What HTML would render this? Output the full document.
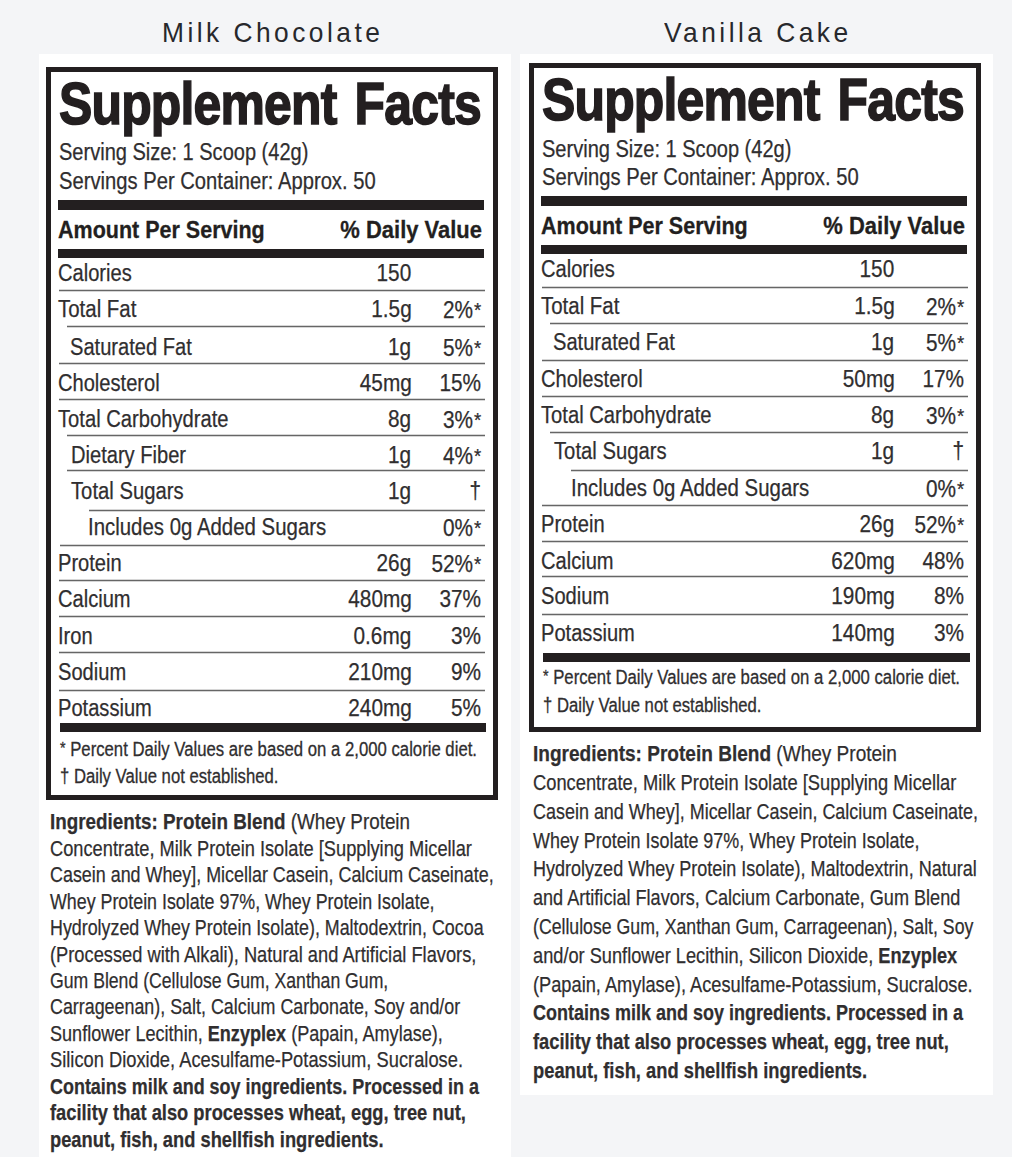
<!DOCTYPE html>
<html><head><meta charset="utf-8"><style>
html,body{margin:0;padding:0;}
body{width:1012px;height:1157px;background:#f4f5f7;position:relative;overflow:hidden;font-family:"Liberation Sans",sans-serif;}
.t{position:absolute;white-space:nowrap;}
.r{position:absolute;}
b{font-weight:700;}
</style></head><body>
<div class="t" style="left:162.10px;transform-origin:0 50%;top:18.90px;font-size:28px;line-height:28px;letter-spacing:3.7px;transform:scaleX(0.94000);color:#27282c;">Milk Chocolate</div>
<div class="t" style="left:664.00px;transform-origin:0 50%;top:18.90px;font-size:28px;line-height:28px;letter-spacing:3.7px;transform:scaleX(0.94000);color:#27282c;">Vanilla Cake</div>
<div class="r" style="left:39px;top:54px;width:472px;height:1103px;background:#ffffff;"></div>
<div class="r" style="left:520px;top:54px;width:473px;height:1041px;background:#ffffff;"></div>
<div class="r" style="left:46px;top:67px;width:442px;height:723px;border:5px solid #231f20;background:transparent"></div>
<div class="t" style="left:58.50px;transform-origin:0 50%;top:74.01px;font-size:60px;line-height:60px;font-weight:700;letter-spacing:-1px;transform:scaleX(0.83251);color:#231f20;word-spacing:6px;-webkit-text-stroke:1.6px #231f20;">Supplement Facts</div>
<div class="t" style="left:58.70px;transform-origin:0 50%;top:141.11px;font-size:23.5px;line-height:23.5px;transform:scaleX(0.85225);color:#302e2f;-webkit-text-stroke:0.25px #302e2f;">Serving Size: 1 Scoop (42g)</div>
<div class="t" style="left:58.70px;transform-origin:0 50%;top:169.61px;font-size:23.5px;line-height:23.5px;transform:scaleX(0.85965);color:#302e2f;-webkit-text-stroke:0.25px #302e2f;">Servings Per Container: Approx. 50</div>
<div class="r" style="left:58px;top:200px;width:426px;height:10px;background:#231f20;"></div>
<div class="t" style="left:58.30px;transform-origin:0 50%;top:218.06px;font-size:24.5px;line-height:24.5px;font-weight:700;transform:scaleX(0.87773);color:#231f20;-webkit-text-stroke:0.3px #231f20;">Amount Per Serving</div>
<div class="t" style="right:530.00px;transform-origin:100% 50%;top:218.06px;font-size:24.5px;line-height:24.5px;font-weight:700;transform:scaleX(0.89637);color:#231f20;-webkit-text-stroke:0.3px #231f20;">% Daily Value</div>
<div class="r" style="left:58px;top:249px;width:426px;height:9px;background:#231f20;"></div>
<div class="t" style="left:58.30px;transform-origin:0 50%;top:262.11px;font-size:23.5px;line-height:23.5px;transform:scaleX(0.85500);color:#302e2f;-webkit-text-stroke:0.25px #302e2f;">Calories</div>
<div class="t" style="right:600.50px;transform-origin:100% 50%;top:262.11px;font-size:23.5px;line-height:23.5px;transform:scaleX(0.88500);color:#302e2f;-webkit-text-stroke:0.25px #302e2f;">150</div>
<div class="t" style="left:58.30px;transform-origin:0 50%;top:298.11px;font-size:23.5px;line-height:23.5px;transform:scaleX(0.86998);color:#302e2f;-webkit-text-stroke:0.25px #302e2f;">Total Fat</div>
<div class="t" style="right:600.50px;transform-origin:100% 50%;top:298.11px;font-size:23.5px;line-height:23.5px;transform:scaleX(0.88500);color:#302e2f;-webkit-text-stroke:0.25px #302e2f;">1.5g</div>
<div class="t" style="right:531.20px;transform-origin:100% 50%;top:298.11px;font-size:23.5px;line-height:23.5px;transform:scaleX(0.88500);color:#302e2f;-webkit-text-stroke:0.25px #302e2f;">2%<span style="font-size:21px;vertical-align:1px;margin-left:1px">*</span></div>
<div class="t" style="left:70.30px;transform-origin:0 50%;top:335.61px;font-size:23.5px;line-height:23.5px;transform:scaleX(0.85500);color:#302e2f;-webkit-text-stroke:0.25px #302e2f;">Saturated Fat</div>
<div class="t" style="right:600.50px;transform-origin:100% 50%;top:335.61px;font-size:23.5px;line-height:23.5px;transform:scaleX(0.88500);color:#302e2f;-webkit-text-stroke:0.25px #302e2f;">1g</div>
<div class="t" style="right:531.20px;transform-origin:100% 50%;top:335.61px;font-size:23.5px;line-height:23.5px;transform:scaleX(0.88500);color:#302e2f;-webkit-text-stroke:0.25px #302e2f;">5%<span style="font-size:21px;vertical-align:1px;margin-left:1px">*</span></div>
<div class="t" style="left:58.30px;transform-origin:0 50%;top:371.91px;font-size:23.5px;line-height:23.5px;transform:scaleX(0.85500);color:#302e2f;-webkit-text-stroke:0.25px #302e2f;">Cholesterol</div>
<div class="t" style="right:600.50px;transform-origin:100% 50%;top:371.91px;font-size:23.5px;line-height:23.5px;transform:scaleX(0.88500);color:#302e2f;-webkit-text-stroke:0.25px #302e2f;">45mg</div>
<div class="t" style="right:531.20px;transform-origin:100% 50%;top:371.91px;font-size:23.5px;line-height:23.5px;transform:scaleX(0.88500);color:#302e2f;-webkit-text-stroke:0.25px #302e2f;">15%</div>
<div class="t" style="left:58.30px;transform-origin:0 50%;top:407.91px;font-size:23.5px;line-height:23.5px;transform:scaleX(0.85863);color:#302e2f;-webkit-text-stroke:0.25px #302e2f;">Total Carbohydrate</div>
<div class="t" style="right:600.50px;transform-origin:100% 50%;top:407.91px;font-size:23.5px;line-height:23.5px;transform:scaleX(0.88500);color:#302e2f;-webkit-text-stroke:0.25px #302e2f;">8g</div>
<div class="t" style="right:531.20px;transform-origin:100% 50%;top:407.91px;font-size:23.5px;line-height:23.5px;transform:scaleX(0.88500);color:#302e2f;-webkit-text-stroke:0.25px #302e2f;">3%<span style="font-size:21px;vertical-align:1px;margin-left:1px">*</span></div>
<div class="t" style="left:71.30px;transform-origin:0 50%;top:443.91px;font-size:23.5px;line-height:23.5px;transform:scaleX(0.85500);color:#302e2f;-webkit-text-stroke:0.25px #302e2f;">Dietary Fiber</div>
<div class="t" style="right:600.50px;transform-origin:100% 50%;top:443.91px;font-size:23.5px;line-height:23.5px;transform:scaleX(0.88500);color:#302e2f;-webkit-text-stroke:0.25px #302e2f;">1g</div>
<div class="t" style="right:531.20px;transform-origin:100% 50%;top:443.91px;font-size:23.5px;line-height:23.5px;transform:scaleX(0.88500);color:#302e2f;-webkit-text-stroke:0.25px #302e2f;">4%<span style="font-size:21px;vertical-align:1px;margin-left:1px">*</span></div>
<div class="t" style="left:70.80px;transform-origin:0 50%;top:480.11px;font-size:23.5px;line-height:23.5px;transform:scaleX(0.86136);color:#302e2f;-webkit-text-stroke:0.25px #302e2f;">Total Sugars</div>
<div class="t" style="right:600.50px;transform-origin:100% 50%;top:480.11px;font-size:23.5px;line-height:23.5px;transform:scaleX(0.88500);color:#302e2f;-webkit-text-stroke:0.25px #302e2f;">1g</div>
<div class="t" style="right:531.20px;transform-origin:100% 50%;top:480.11px;font-size:23.5px;line-height:23.5px;transform:scaleX(0.88500);color:#302e2f;-webkit-text-stroke:0.25px #302e2f;">&#8224;</div>
<div class="t" style="left:88.20px;transform-origin:0 50%;top:515.81px;font-size:23.5px;line-height:23.5px;transform:scaleX(0.86828);color:#302e2f;-webkit-text-stroke:0.25px #302e2f;">Includes 0g Added Sugars</div>
<div class="t" style="right:531.20px;transform-origin:100% 50%;top:515.81px;font-size:23.5px;line-height:23.5px;transform:scaleX(0.88500);color:#302e2f;-webkit-text-stroke:0.25px #302e2f;">0%<span style="font-size:21px;vertical-align:1px;margin-left:1px">*</span></div>
<div class="t" style="left:58.30px;transform-origin:0 50%;top:551.51px;font-size:23.5px;line-height:23.5px;transform:scaleX(0.85500);color:#302e2f;-webkit-text-stroke:0.25px #302e2f;">Protein</div>
<div class="t" style="right:600.50px;transform-origin:100% 50%;top:551.51px;font-size:23.5px;line-height:23.5px;transform:scaleX(0.88500);color:#302e2f;-webkit-text-stroke:0.25px #302e2f;">26g</div>
<div class="t" style="right:531.20px;transform-origin:100% 50%;top:551.51px;font-size:23.5px;line-height:23.5px;transform:scaleX(0.88500);color:#302e2f;-webkit-text-stroke:0.25px #302e2f;">52%<span style="font-size:21px;vertical-align:1px;margin-left:1px">*</span></div>
<div class="t" style="left:58.30px;transform-origin:0 50%;top:587.91px;font-size:23.5px;line-height:23.5px;transform:scaleX(0.85500);color:#302e2f;-webkit-text-stroke:0.25px #302e2f;">Calcium</div>
<div class="t" style="right:600.50px;transform-origin:100% 50%;top:587.91px;font-size:23.5px;line-height:23.5px;transform:scaleX(0.88500);color:#302e2f;-webkit-text-stroke:0.25px #302e2f;">480mg</div>
<div class="t" style="right:531.20px;transform-origin:100% 50%;top:587.91px;font-size:23.5px;line-height:23.5px;transform:scaleX(0.88500);color:#302e2f;-webkit-text-stroke:0.25px #302e2f;">37%</div>
<div class="t" style="left:58.30px;transform-origin:0 50%;top:625.11px;font-size:23.5px;line-height:23.5px;transform:scaleX(0.85500);color:#302e2f;-webkit-text-stroke:0.25px #302e2f;">Iron</div>
<div class="t" style="right:600.50px;transform-origin:100% 50%;top:625.11px;font-size:23.5px;line-height:23.5px;transform:scaleX(0.88500);color:#302e2f;-webkit-text-stroke:0.25px #302e2f;">0.6mg</div>
<div class="t" style="right:531.20px;transform-origin:100% 50%;top:625.11px;font-size:23.5px;line-height:23.5px;transform:scaleX(0.88500);color:#302e2f;-webkit-text-stroke:0.25px #302e2f;">3%</div>
<div class="t" style="left:58.30px;transform-origin:0 50%;top:661.11px;font-size:23.5px;line-height:23.5px;transform:scaleX(0.85500);color:#302e2f;-webkit-text-stroke:0.25px #302e2f;">Sodium</div>
<div class="t" style="right:600.50px;transform-origin:100% 50%;top:661.11px;font-size:23.5px;line-height:23.5px;transform:scaleX(0.88500);color:#302e2f;-webkit-text-stroke:0.25px #302e2f;">210mg</div>
<div class="t" style="right:531.20px;transform-origin:100% 50%;top:661.11px;font-size:23.5px;line-height:23.5px;transform:scaleX(0.88500);color:#302e2f;-webkit-text-stroke:0.25px #302e2f;">9%</div>
<div class="t" style="left:58.30px;transform-origin:0 50%;top:697.11px;font-size:23.5px;line-height:23.5px;transform:scaleX(0.85500);color:#302e2f;-webkit-text-stroke:0.25px #302e2f;">Potassium</div>
<div class="t" style="right:600.50px;transform-origin:100% 50%;top:697.11px;font-size:23.5px;line-height:23.5px;transform:scaleX(0.88500);color:#302e2f;-webkit-text-stroke:0.25px #302e2f;">240mg</div>
<div class="t" style="right:531.20px;transform-origin:100% 50%;top:697.11px;font-size:23.5px;line-height:23.5px;transform:scaleX(0.88500);color:#302e2f;-webkit-text-stroke:0.25px #302e2f;">5%</div>
<div class="r" style="left:58.8px;top:289px;width:426.2px;height:1px;background:#d6d6d6;"></div>
<div class="r" style="left:58.8px;top:290px;width:426.2px;height:1px;background:#666666;"></div>
<div class="r" style="left:58.8px;top:291px;width:426.2px;height:1px;background:#d6d6d6;"></div>
<div class="r" style="left:67px;top:325px;width:418px;height:1px;background:#d6d6d6;"></div>
<div class="r" style="left:67px;top:326px;width:418px;height:1px;background:#666666;"></div>
<div class="r" style="left:67px;top:327px;width:418px;height:1px;background:#d6d6d6;"></div>
<div class="r" style="left:58.8px;top:362px;width:426.2px;height:1px;background:#d6d6d6;"></div>
<div class="r" style="left:58.8px;top:363px;width:426.2px;height:1px;background:#666666;"></div>
<div class="r" style="left:58.8px;top:364px;width:426.2px;height:1px;background:#d6d6d6;"></div>
<div class="r" style="left:58.8px;top:398px;width:426.2px;height:1px;background:#d6d6d6;"></div>
<div class="r" style="left:58.8px;top:399px;width:426.2px;height:1px;background:#666666;"></div>
<div class="r" style="left:58.8px;top:400px;width:426.2px;height:1px;background:#d6d6d6;"></div>
<div class="r" style="left:67px;top:434px;width:418px;height:1px;background:#d6d6d6;"></div>
<div class="r" style="left:67px;top:435px;width:418px;height:1px;background:#666666;"></div>
<div class="r" style="left:67px;top:436px;width:418px;height:1px;background:#d6d6d6;"></div>
<div class="r" style="left:67px;top:469px;width:418px;height:1px;background:#d6d6d6;"></div>
<div class="r" style="left:67px;top:470px;width:418px;height:1px;background:#666666;"></div>
<div class="r" style="left:67px;top:471px;width:418px;height:1px;background:#d6d6d6;"></div>
<div class="r" style="left:89.3px;top:509px;width:395.7px;height:1px;background:#d6d6d6;"></div>
<div class="r" style="left:89.3px;top:510px;width:395.7px;height:1px;background:#666666;"></div>
<div class="r" style="left:89.3px;top:511px;width:395.7px;height:1px;background:#d6d6d6;"></div>
<div class="r" style="left:60px;top:544px;width:425px;height:1px;background:#d6d6d6;"></div>
<div class="r" style="left:60px;top:545px;width:425px;height:1px;background:#666666;"></div>
<div class="r" style="left:60px;top:546px;width:425px;height:1px;background:#d6d6d6;"></div>
<div class="r" style="left:58.8px;top:579px;width:426.2px;height:1px;background:#d6d6d6;"></div>
<div class="r" style="left:58.8px;top:580px;width:426.2px;height:1px;background:#666666;"></div>
<div class="r" style="left:58.8px;top:581px;width:426.2px;height:1px;background:#d6d6d6;"></div>
<div class="r" style="left:58.8px;top:615px;width:426.2px;height:1px;background:#d6d6d6;"></div>
<div class="r" style="left:58.8px;top:616px;width:426.2px;height:1px;background:#666666;"></div>
<div class="r" style="left:58.8px;top:617px;width:426.2px;height:1px;background:#d6d6d6;"></div>
<div class="r" style="left:58.8px;top:651px;width:426.2px;height:1px;background:#d6d6d6;"></div>
<div class="r" style="left:58.8px;top:652px;width:426.2px;height:1px;background:#666666;"></div>
<div class="r" style="left:58.8px;top:653px;width:426.2px;height:1px;background:#d6d6d6;"></div>
<div class="r" style="left:58.8px;top:689px;width:426.2px;height:1px;background:#d6d6d6;"></div>
<div class="r" style="left:58.8px;top:690px;width:426.2px;height:1px;background:#666666;"></div>
<div class="r" style="left:58.8px;top:691px;width:426.2px;height:1px;background:#d6d6d6;"></div>
<div class="r" style="left:60px;top:723px;width:426px;height:9px;background:#231f20;"></div>
<div class="t" style="left:59.90px;transform-origin:0 50%;top:739.37px;font-size:20px;line-height:20px;transform:scaleX(0.83600);color:#302e2f;-webkit-text-stroke:0.3px #302e2f;"><span style="font-size:17px;vertical-align:2px">*</span> Percent Daily Values are based on a 2,000 calorie diet.</div>
<div class="t" style="left:59.90px;transform-origin:0 50%;top:766.47px;font-size:20px;line-height:20px;transform:scaleX(0.83354);color:#302e2f;-webkit-text-stroke:0.3px #302e2f;">&#8224; Daily Value not established.</div>
<div class="t" style="left:50.40px;transform-origin:0 50%;top:811.45px;font-size:22.5px;line-height:22.5px;transform:scaleX(0.83709);color:#302e2f;-webkit-text-stroke:0.25px #302e2f;"><b>Ingredients: Protein Blend</b> (Whey Protein</div>
<div class="t" style="left:50.40px;transform-origin:0 50%;top:837.88px;font-size:22.5px;line-height:22.5px;transform:scaleX(0.81097);color:#302e2f;-webkit-text-stroke:0.25px #302e2f;">Concentrate, Milk Protein Isolate [Supplying Micellar</div>
<div class="t" style="left:50.40px;transform-origin:0 50%;top:864.31px;font-size:22.5px;line-height:22.5px;transform:scaleX(0.79546);color:#302e2f;-webkit-text-stroke:0.25px #302e2f;">Casein and Whey], Micellar Casein, Calcium Caseinate,</div>
<div class="t" style="left:50.40px;transform-origin:0 50%;top:890.74px;font-size:22.5px;line-height:22.5px;transform:scaleX(0.79256);color:#302e2f;-webkit-text-stroke:0.25px #302e2f;">Whey Protein Isolate 97%, Whey Protein Isolate,</div>
<div class="t" style="left:50.40px;transform-origin:0 50%;top:917.17px;font-size:22.5px;line-height:22.5px;transform:scaleX(0.79339);color:#302e2f;-webkit-text-stroke:0.25px #302e2f;">Hydrolyzed Whey Protein Isolate), Maltodextrin, Cocoa</div>
<div class="t" style="left:50.40px;transform-origin:0 50%;top:943.60px;font-size:22.5px;line-height:22.5px;transform:scaleX(0.81191);color:#302e2f;-webkit-text-stroke:0.25px #302e2f;">(Processed with Alkali), Natural and Artificial Flavors,</div>
<div class="t" style="left:50.40px;transform-origin:0 50%;top:970.03px;font-size:22.5px;line-height:22.5px;transform:scaleX(0.78398);color:#302e2f;-webkit-text-stroke:0.25px #302e2f;">Gum Blend (Cellulose Gum, Xanthan Gum,</div>
<div class="t" style="left:50.40px;transform-origin:0 50%;top:996.46px;font-size:22.5px;line-height:22.5px;transform:scaleX(0.79409);color:#302e2f;-webkit-text-stroke:0.25px #302e2f;">Carrageenan), Salt, Calcium Carbonate, Soy and/or</div>
<div class="t" style="left:50.40px;transform-origin:0 50%;top:1022.89px;font-size:22.5px;line-height:22.5px;transform:scaleX(0.80334);color:#302e2f;-webkit-text-stroke:0.25px #302e2f;">Sunflower Lecithin, <b>Enzyplex</b> (Papain, Amylase),</div>
<div class="t" style="left:50.40px;transform-origin:0 50%;top:1049.32px;font-size:22.5px;line-height:22.5px;transform:scaleX(0.81342);color:#302e2f;-webkit-text-stroke:0.25px #302e2f;">Silicon Dioxide, Acesulfame-Potassium, Sucralose.</div>
<div class="t" style="left:50.40px;transform-origin:0 50%;top:1075.75px;font-size:22.5px;line-height:22.5px;transform:scaleX(0.79784);color:#302e2f;-webkit-text-stroke:0.25px #302e2f;"><b>Contains milk and soy ingredients. Processed in a</b></div>
<div class="t" style="left:50.40px;transform-origin:0 50%;top:1102.18px;font-size:22.5px;line-height:22.5px;transform:scaleX(0.81318);color:#302e2f;-webkit-text-stroke:0.25px #302e2f;"><b>facility that also processes wheat, egg, tree nut,</b></div>
<div class="t" style="left:50.40px;transform-origin:0 50%;top:1128.61px;font-size:22.5px;line-height:22.5px;transform:scaleX(0.81343);color:#302e2f;-webkit-text-stroke:0.25px #302e2f;"><b>peanut, fish, and shellfish ingredients.</b></div>
<div class="r" style="left:529px;top:63px;width:442px;height:659px;border:5px solid #231f20;background:transparent"></div>
<div class="t" style="left:541.50px;transform-origin:0 50%;top:70.41px;font-size:60px;line-height:60px;font-weight:700;letter-spacing:-1px;transform:scaleX(0.83251);color:#231f20;word-spacing:6px;-webkit-text-stroke:1.6px #231f20;">Supplement Facts</div>
<div class="t" style="left:541.70px;transform-origin:0 50%;top:137.51px;font-size:23.5px;line-height:23.5px;transform:scaleX(0.85225);color:#302e2f;-webkit-text-stroke:0.25px #302e2f;">Serving Size: 1 Scoop (42g)</div>
<div class="t" style="left:541.70px;transform-origin:0 50%;top:166.01px;font-size:23.5px;line-height:23.5px;transform:scaleX(0.85965);color:#302e2f;-webkit-text-stroke:0.25px #302e2f;">Servings Per Container: Approx. 50</div>
<div class="r" style="left:541px;top:196.4px;width:426px;height:10px;background:#231f20;"></div>
<div class="t" style="left:541.30px;transform-origin:0 50%;top:214.46px;font-size:24.5px;line-height:24.5px;font-weight:700;transform:scaleX(0.87773);color:#231f20;-webkit-text-stroke:0.3px #231f20;">Amount Per Serving</div>
<div class="t" style="right:47.00px;transform-origin:100% 50%;top:214.46px;font-size:24.5px;line-height:24.5px;font-weight:700;transform:scaleX(0.89637);color:#231f20;-webkit-text-stroke:0.3px #231f20;">% Daily Value</div>
<div class="r" style="left:541px;top:245.4px;width:426px;height:9px;background:#231f20;"></div>
<div class="t" style="left:541.30px;transform-origin:0 50%;top:258.11px;font-size:23.5px;line-height:23.5px;transform:scaleX(0.85500);color:#302e2f;-webkit-text-stroke:0.25px #302e2f;">Calories</div>
<div class="t" style="right:117.50px;transform-origin:100% 50%;top:258.11px;font-size:23.5px;line-height:23.5px;transform:scaleX(0.88500);color:#302e2f;-webkit-text-stroke:0.25px #302e2f;">150</div>
<div class="t" style="left:541.30px;transform-origin:0 50%;top:294.51px;font-size:23.5px;line-height:23.5px;transform:scaleX(0.86998);color:#302e2f;-webkit-text-stroke:0.25px #302e2f;">Total Fat</div>
<div class="t" style="right:117.50px;transform-origin:100% 50%;top:294.51px;font-size:23.5px;line-height:23.5px;transform:scaleX(0.88500);color:#302e2f;-webkit-text-stroke:0.25px #302e2f;">1.5g</div>
<div class="t" style="right:48.20px;transform-origin:100% 50%;top:294.51px;font-size:23.5px;line-height:23.5px;transform:scaleX(0.88500);color:#302e2f;-webkit-text-stroke:0.25px #302e2f;">2%<span style="font-size:21px;vertical-align:1px;margin-left:1px">*</span></div>
<div class="t" style="left:553.30px;transform-origin:0 50%;top:331.11px;font-size:23.5px;line-height:23.5px;transform:scaleX(0.85500);color:#302e2f;-webkit-text-stroke:0.25px #302e2f;">Saturated Fat</div>
<div class="t" style="right:117.50px;transform-origin:100% 50%;top:331.11px;font-size:23.5px;line-height:23.5px;transform:scaleX(0.88500);color:#302e2f;-webkit-text-stroke:0.25px #302e2f;">1g</div>
<div class="t" style="right:48.20px;transform-origin:100% 50%;top:331.11px;font-size:23.5px;line-height:23.5px;transform:scaleX(0.88500);color:#302e2f;-webkit-text-stroke:0.25px #302e2f;">5%<span style="font-size:21px;vertical-align:1px;margin-left:1px">*</span></div>
<div class="t" style="left:541.30px;transform-origin:0 50%;top:367.91px;font-size:23.5px;line-height:23.5px;transform:scaleX(0.85500);color:#302e2f;-webkit-text-stroke:0.25px #302e2f;">Cholesterol</div>
<div class="t" style="right:117.50px;transform-origin:100% 50%;top:367.91px;font-size:23.5px;line-height:23.5px;transform:scaleX(0.88500);color:#302e2f;-webkit-text-stroke:0.25px #302e2f;">50mg</div>
<div class="t" style="right:48.20px;transform-origin:100% 50%;top:367.91px;font-size:23.5px;line-height:23.5px;transform:scaleX(0.88500);color:#302e2f;-webkit-text-stroke:0.25px #302e2f;">17%</div>
<div class="t" style="left:541.30px;transform-origin:0 50%;top:403.81px;font-size:23.5px;line-height:23.5px;transform:scaleX(0.85863);color:#302e2f;-webkit-text-stroke:0.25px #302e2f;">Total Carbohydrate</div>
<div class="t" style="right:117.50px;transform-origin:100% 50%;top:403.81px;font-size:23.5px;line-height:23.5px;transform:scaleX(0.88500);color:#302e2f;-webkit-text-stroke:0.25px #302e2f;">8g</div>
<div class="t" style="right:48.20px;transform-origin:100% 50%;top:403.81px;font-size:23.5px;line-height:23.5px;transform:scaleX(0.88500);color:#302e2f;-webkit-text-stroke:0.25px #302e2f;">3%<span style="font-size:21px;vertical-align:1px;margin-left:1px">*</span></div>
<div class="t" style="left:553.80px;transform-origin:0 50%;top:440.11px;font-size:23.5px;line-height:23.5px;transform:scaleX(0.86136);color:#302e2f;-webkit-text-stroke:0.25px #302e2f;">Total Sugars</div>
<div class="t" style="right:117.50px;transform-origin:100% 50%;top:440.11px;font-size:23.5px;line-height:23.5px;transform:scaleX(0.88500);color:#302e2f;-webkit-text-stroke:0.25px #302e2f;">1g</div>
<div class="t" style="right:48.20px;transform-origin:100% 50%;top:440.11px;font-size:23.5px;line-height:23.5px;transform:scaleX(0.88500);color:#302e2f;-webkit-text-stroke:0.25px #302e2f;">&#8224;</div>
<div class="t" style="left:571.20px;transform-origin:0 50%;top:476.71px;font-size:23.5px;line-height:23.5px;transform:scaleX(0.86828);color:#302e2f;-webkit-text-stroke:0.25px #302e2f;">Includes 0g Added Sugars</div>
<div class="t" style="right:48.20px;transform-origin:100% 50%;top:476.71px;font-size:23.5px;line-height:23.5px;transform:scaleX(0.88500);color:#302e2f;-webkit-text-stroke:0.25px #302e2f;">0%<span style="font-size:21px;vertical-align:1px;margin-left:1px">*</span></div>
<div class="t" style="left:541.30px;transform-origin:0 50%;top:513.31px;font-size:23.5px;line-height:23.5px;transform:scaleX(0.85500);color:#302e2f;-webkit-text-stroke:0.25px #302e2f;">Protein</div>
<div class="t" style="right:117.50px;transform-origin:100% 50%;top:513.31px;font-size:23.5px;line-height:23.5px;transform:scaleX(0.88500);color:#302e2f;-webkit-text-stroke:0.25px #302e2f;">26g</div>
<div class="t" style="right:48.20px;transform-origin:100% 50%;top:513.31px;font-size:23.5px;line-height:23.5px;transform:scaleX(0.88500);color:#302e2f;-webkit-text-stroke:0.25px #302e2f;">52%<span style="font-size:21px;vertical-align:1px;margin-left:1px">*</span></div>
<div class="t" style="left:541.30px;transform-origin:0 50%;top:549.61px;font-size:23.5px;line-height:23.5px;transform:scaleX(0.85500);color:#302e2f;-webkit-text-stroke:0.25px #302e2f;">Calcium</div>
<div class="t" style="right:117.50px;transform-origin:100% 50%;top:549.61px;font-size:23.5px;line-height:23.5px;transform:scaleX(0.88500);color:#302e2f;-webkit-text-stroke:0.25px #302e2f;">620mg</div>
<div class="t" style="right:48.20px;transform-origin:100% 50%;top:549.61px;font-size:23.5px;line-height:23.5px;transform:scaleX(0.88500);color:#302e2f;-webkit-text-stroke:0.25px #302e2f;">48%</div>
<div class="t" style="left:541.30px;transform-origin:0 50%;top:584.91px;font-size:23.5px;line-height:23.5px;transform:scaleX(0.85500);color:#302e2f;-webkit-text-stroke:0.25px #302e2f;">Sodium</div>
<div class="t" style="right:117.50px;transform-origin:100% 50%;top:584.91px;font-size:23.5px;line-height:23.5px;transform:scaleX(0.88500);color:#302e2f;-webkit-text-stroke:0.25px #302e2f;">190mg</div>
<div class="t" style="right:48.20px;transform-origin:100% 50%;top:584.91px;font-size:23.5px;line-height:23.5px;transform:scaleX(0.88500);color:#302e2f;-webkit-text-stroke:0.25px #302e2f;">8%</div>
<div class="t" style="left:541.30px;transform-origin:0 50%;top:622.01px;font-size:23.5px;line-height:23.5px;transform:scaleX(0.85500);color:#302e2f;-webkit-text-stroke:0.25px #302e2f;">Potassium</div>
<div class="t" style="right:117.50px;transform-origin:100% 50%;top:622.01px;font-size:23.5px;line-height:23.5px;transform:scaleX(0.88500);color:#302e2f;-webkit-text-stroke:0.25px #302e2f;">140mg</div>
<div class="t" style="right:48.20px;transform-origin:100% 50%;top:622.01px;font-size:23.5px;line-height:23.5px;transform:scaleX(0.88500);color:#302e2f;-webkit-text-stroke:0.25px #302e2f;">3%</div>
<div class="r" style="left:541.8px;top:286px;width:426.20000000000005px;height:1px;background:#d6d6d6;"></div>
<div class="r" style="left:541.8px;top:287px;width:426.20000000000005px;height:1px;background:#666666;"></div>
<div class="r" style="left:541.8px;top:288px;width:426.20000000000005px;height:1px;background:#d6d6d6;"></div>
<div class="r" style="left:550px;top:322px;width:418px;height:1px;background:#d6d6d6;"></div>
<div class="r" style="left:550px;top:323px;width:418px;height:1px;background:#666666;"></div>
<div class="r" style="left:550px;top:324px;width:418px;height:1px;background:#d6d6d6;"></div>
<div class="r" style="left:541.8px;top:359px;width:426.20000000000005px;height:1px;background:#d6d6d6;"></div>
<div class="r" style="left:541.8px;top:360px;width:426.20000000000005px;height:1px;background:#666666;"></div>
<div class="r" style="left:541.8px;top:361px;width:426.20000000000005px;height:1px;background:#d6d6d6;"></div>
<div class="r" style="left:541.8px;top:395px;width:426.20000000000005px;height:1px;background:#d6d6d6;"></div>
<div class="r" style="left:541.8px;top:396px;width:426.20000000000005px;height:1px;background:#666666;"></div>
<div class="r" style="left:541.8px;top:397px;width:426.20000000000005px;height:1px;background:#d6d6d6;"></div>
<div class="r" style="left:550px;top:431px;width:418px;height:1px;background:#d6d6d6;"></div>
<div class="r" style="left:550px;top:432px;width:418px;height:1px;background:#666666;"></div>
<div class="r" style="left:550px;top:433px;width:418px;height:1px;background:#d6d6d6;"></div>
<div class="r" style="left:570.5px;top:469px;width:397.5px;height:1px;background:#d6d6d6;"></div>
<div class="r" style="left:570.5px;top:470px;width:397.5px;height:1px;background:#666666;"></div>
<div class="r" style="left:570.5px;top:471px;width:397.5px;height:1px;background:#d6d6d6;"></div>
<div class="r" style="left:541.8px;top:504px;width:426.20000000000005px;height:1px;background:#d6d6d6;"></div>
<div class="r" style="left:541.8px;top:505px;width:426.20000000000005px;height:1px;background:#666666;"></div>
<div class="r" style="left:541.8px;top:506px;width:426.20000000000005px;height:1px;background:#d6d6d6;"></div>
<div class="r" style="left:541.8px;top:540px;width:426.20000000000005px;height:1px;background:#d6d6d6;"></div>
<div class="r" style="left:541.8px;top:541px;width:426.20000000000005px;height:1px;background:#666666;"></div>
<div class="r" style="left:541.8px;top:542px;width:426.20000000000005px;height:1px;background:#d6d6d6;"></div>
<div class="r" style="left:541.8px;top:575px;width:426.20000000000005px;height:1px;background:#d6d6d6;"></div>
<div class="r" style="left:541.8px;top:576px;width:426.20000000000005px;height:1px;background:#666666;"></div>
<div class="r" style="left:541.8px;top:577px;width:426.20000000000005px;height:1px;background:#d6d6d6;"></div>
<div class="r" style="left:541.8px;top:613px;width:426.20000000000005px;height:1px;background:#d6d6d6;"></div>
<div class="r" style="left:541.8px;top:614px;width:426.20000000000005px;height:1px;background:#666666;"></div>
<div class="r" style="left:541.8px;top:615px;width:426.20000000000005px;height:1px;background:#d6d6d6;"></div>
<div class="r" style="left:543px;top:652.5px;width:427px;height:9px;background:#231f20;"></div>
<div class="t" style="left:542.90px;transform-origin:0 50%;top:667.07px;font-size:20px;line-height:20px;transform:scaleX(0.83600);color:#302e2f;-webkit-text-stroke:0.3px #302e2f;"><span style="font-size:17px;vertical-align:2px">*</span> Percent Daily Values are based on a 2,000 calorie diet.</div>
<div class="t" style="left:542.90px;transform-origin:0 50%;top:694.57px;font-size:20px;line-height:20px;transform:scaleX(0.83354);color:#302e2f;-webkit-text-stroke:0.3px #302e2f;">&#8224; Daily Value not established.</div>
<div class="t" style="left:533.20px;transform-origin:0 50%;top:743.25px;font-size:22.5px;line-height:22.5px;transform:scaleX(0.84622);color:#302e2f;-webkit-text-stroke:0.25px #302e2f;"><b>Ingredients: Protein Blend</b> (Whey Protein</div>
<div class="t" style="left:533.20px;transform-origin:0 50%;top:772.05px;font-size:22.5px;line-height:22.5px;transform:scaleX(0.81386);color:#302e2f;-webkit-text-stroke:0.25px #302e2f;">Concentrate, Milk Protein Isolate [Supplying Micellar</div>
<div class="t" style="left:533.20px;transform-origin:0 50%;top:800.85px;font-size:22.5px;line-height:22.5px;transform:scaleX(0.79799);color:#302e2f;-webkit-text-stroke:0.25px #302e2f;">Casein and Whey], Micellar Casein, Calcium Caseinate,</div>
<div class="t" style="left:533.20px;transform-origin:0 50%;top:829.65px;font-size:22.5px;line-height:22.5px;transform:scaleX(0.79649);color:#302e2f;-webkit-text-stroke:0.25px #302e2f;">Whey Protein Isolate 97%, Whey Protein Isolate,</div>
<div class="t" style="left:533.20px;transform-origin:0 50%;top:858.45px;font-size:22.5px;line-height:22.5px;transform:scaleX(0.80101);color:#302e2f;-webkit-text-stroke:0.25px #302e2f;">Hydrolyzed Whey Protein Isolate), Maltodextrin, Natural</div>
<div class="t" style="left:533.20px;transform-origin:0 50%;top:887.25px;font-size:22.5px;line-height:22.5px;transform:scaleX(0.80392);color:#302e2f;-webkit-text-stroke:0.25px #302e2f;">and Artificial Flavors, Calcium Carbonate, Gum Blend</div>
<div class="t" style="left:533.20px;transform-origin:0 50%;top:916.05px;font-size:22.5px;line-height:22.5px;transform:scaleX(0.78592);color:#302e2f;-webkit-text-stroke:0.25px #302e2f;">(Cellulose Gum, Xanthan Gum, Carrageenan), Salt, Soy</div>
<div class="t" style="left:533.20px;transform-origin:0 50%;top:944.85px;font-size:22.5px;line-height:22.5px;transform:scaleX(0.80961);color:#302e2f;-webkit-text-stroke:0.25px #302e2f;">and/or Sunflower Lecithin, Silicon Dioxide, <b>Enzyplex</b></div>
<div class="t" style="left:533.20px;transform-origin:0 50%;top:973.65px;font-size:22.5px;line-height:22.5px;transform:scaleX(0.81012);color:#302e2f;-webkit-text-stroke:0.25px #302e2f;">(Papain, Amylase), Acesulfame-Potassium, Sucralose.</div>
<div class="t" style="left:533.20px;transform-origin:0 50%;top:1002.45px;font-size:22.5px;line-height:22.5px;transform:scaleX(0.79970);color:#302e2f;-webkit-text-stroke:0.25px #302e2f;"><b>Contains milk and soy ingredients. Processed in a</b></div>
<div class="t" style="left:533.20px;transform-origin:0 50%;top:1031.25px;font-size:22.5px;line-height:22.5px;transform:scaleX(0.81298);color:#302e2f;-webkit-text-stroke:0.25px #302e2f;"><b>facility that also processes wheat, egg, tree nut,</b></div>
<div class="t" style="left:533.20px;transform-origin:0 50%;top:1060.05px;font-size:22.5px;line-height:22.5px;transform:scaleX(0.81466);color:#302e2f;-webkit-text-stroke:0.25px #302e2f;"><b>peanut, fish, and shellfish ingredients.</b></div>
</body></html>
